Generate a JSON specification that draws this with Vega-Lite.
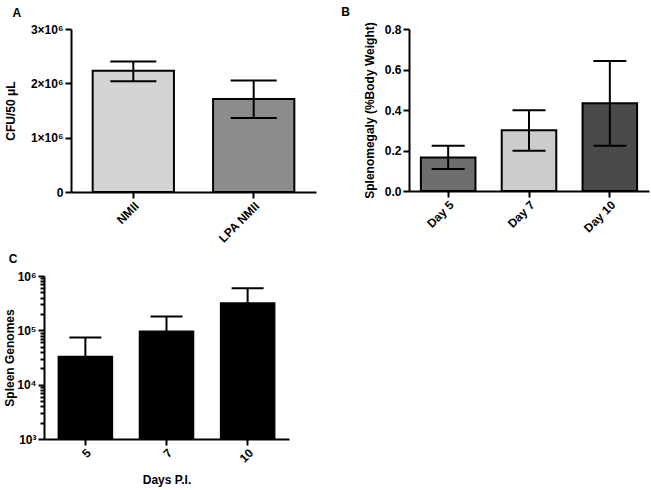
{
  "$schema": "https://vega.github.io/schema/vega-lite/v6.json",
  "padding": {"left": 3, "top": 5, "right": 3, "bottom": 3},
  "background": "white",
  "columns": 2,
  "align": "none",
  "spacing": {"row": 8, "column": 25},
  "resolve": {"scale": {"color": "independent"}},
  "datasets": {
    "a": [
      {"group": "NMII", "mean": 2230000, "lo": 2040000, "hi": 2400000},
      {"group": "LPA NMII", "mean": 1710000, "lo": 1360000, "hi": 2050000}
    ],
    "b": [
      {"group": "Day 5", "mean": 0.166, "lo": 0.109, "hi": 0.224},
      {"group": "Day 7", "mean": 0.300, "lo": 0.199, "hi": 0.399},
      {"group": "Day 10", "mean": 0.433, "lo": 0.224, "hi": 0.642}
    ],
    "c": [
      {"day": "5", "mean": 32600, "hi": 73800},
      {"day": "7", "mean": 95000, "hi": 179000},
      {"day": "10", "mean": 316000, "hi": 597000}
    ]
  },
  "concat": [
    {
      "title": {"text": "A", "dx": 8, "offset": 3},
      "width": 245,
      "height": 163,
      "data": {"name": "a"},
      "encoding": {
        "x": {"field": "group", "type": "nominal", "sort": null,
          "scale": {"paddingInner": 0.325, "paddingOuter": 0.18},
          "axis": {"title": null, "labelAngle": -45}}
      },
      "layer": [
        {"mark": {"type": "bar", "stroke": "black", "strokeWidth": 2},
          "encoding": {
            "y": {"field": "mean", "type": "quantitative", "title": "CFU/50 μL",
              "scale": {"domain": [0, 3000000]},
              "axis": {"values": [0, 1000000, 2000000, 3000000], "titlePadding": 13,
                "labelExpr": "datum.value==0 ? '0' : format(datum.value/1000000,'d') + '×10⁶'"}},
            "color": {"field": "group", "type": "nominal", "legend": null,
              "scale": {"domain": ["NMII", "LPA NMII"], "range": ["#d4d4d4", "#8c8c8e"]}}
          }},
        {"mark": {"type": "rule", "strokeWidth": 2, "color": "black"},
          "encoding": {"y": {"field": "lo", "type": "quantitative", "title": "CFU/50 μL"}, "y2": {"field": "hi"}}},
        {"mark": {"type": "tick", "thickness": 2, "size": 46, "color": "black", "opacity": 1},
          "encoding": {"y": {"field": "lo", "type": "quantitative", "title": "CFU/50 μL"}}},
        {"mark": {"type": "tick", "thickness": 2, "size": 46, "color": "black", "opacity": 1},
          "encoding": {"y": {"field": "hi", "type": "quantitative", "title": "CFU/50 μL"}}}
      ]
    },
    {
      "title": {"text": "B", "dx": -22, "offset": 3},
      "width": 240,
      "height": 162,
      "data": {"name": "b"},
      "encoding": {
        "x": {"field": "group", "type": "nominal", "sort": null,
          "scale": {"paddingInner": 0.325, "paddingOuter": 0.147},
          "axis": {"title": null, "labelAngle": -45}}
      },
      "layer": [
        {"mark": {"type": "bar", "stroke": "black", "strokeWidth": 2},
          "encoding": {
            "y": {"field": "mean", "type": "quantitative", "title": "Splenomegaly (%Body Weight)",
              "scale": {"domain": [0, 0.8]},
              "axis": {"values": [0, 0.2, 0.4, 0.6, 0.8], "format": ".1f", "titlePadding": 8}},
            "color": {"field": "group", "type": "nominal", "legend": null,
              "scale": {"domain": ["Day 5", "Day 7", "Day 10"], "range": ["#6e6e6e", "#cccccc", "#4a4a4a"]}}
          }},
        {"mark": {"type": "rule", "strokeWidth": 2, "color": "black"},
          "encoding": {"y": {"field": "lo", "type": "quantitative", "title": "Splenomegaly (%Body Weight)"}, "y2": {"field": "hi"}}},
        {"mark": {"type": "tick", "thickness": 2, "size": 33, "color": "black", "opacity": 1},
          "encoding": {"y": {"field": "lo", "type": "quantitative", "title": "Splenomegaly (%Body Weight)"}}},
        {"mark": {"type": "tick", "thickness": 2, "size": 33, "color": "black", "opacity": 1},
          "encoding": {"y": {"field": "hi", "type": "quantitative", "title": "Splenomegaly (%Body Weight)"}}}
      ]
    },
    {
      "title": {"text": "C", "dx": 5, "offset": 4},
      "width": 245,
      "height": 163,
      "data": {"name": "c"},
      "encoding": {
        "x": {"field": "day", "type": "nominal", "sort": null,
          "scale": {"paddingInner": 0.34, "paddingOuter": 0.18, "range": [-27, 218]},
          "axis": {"title": "Days P.I.", "labelAngle": -45, "titlePadding": 10}}
      },
      "layer": [
        {"mark": {"type": "bar", "stroke": "black", "strokeWidth": 2, "color": "black"},
          "encoding": {
            "y": {"field": "mean", "type": "quantitative", "title": "Spleen Genomes",
              "scale": {"type": "log", "domain": [1000, 1000000]},
              "axis": {
                "offset": 27,
                "values": [1000, 2000, 3000, 4000, 5000, 6000, 7000, 8000, 9000,
                  10000, 20000, 30000, 40000, 50000, 60000, 70000, 80000, 90000,
                  100000, 200000, 300000, 400000, 500000, 600000, 700000, 800000, 900000, 1000000],
                "titlePadding": 0,
                "tickSize": {"condition": {"test": "abs(log(datum.value)/LN10 - round(log(datum.value)/LN10)) < 0.001", "value": 6}, "value": 4},
                "labelExpr": "datum.value==1000 ? '10³' : datum.value==10000 ? '10⁴' : datum.value==100000 ? '10⁵' : datum.value==1000000 ? '10⁶' : ''"}},
            "y2": {"datum": 1000}
          }},
        {"mark": {"type": "rule", "strokeWidth": 2, "color": "black"},
          "encoding": {"y": {"field": "mean", "type": "quantitative", "title": "Spleen Genomes"}, "y2": {"field": "hi"}}},
        {"mark": {"type": "tick", "thickness": 2, "size": 32, "color": "black", "opacity": 1},
          "encoding": {"y": {"field": "hi", "type": "quantitative", "title": "Spleen Genomes"}}}
      ]
    }
  ],
  "config": {
    "view": {"stroke": null},
    "font": "Liberation Sans",
    "axis": {
      "domainColor": "black", "domainWidth": 2, "tickColor": "black", "tickWidth": 2, "tickSize": 6,
      "labelFont": "Liberation Sans", "labelFontWeight": "bold", "labelFontSize": 12, "labelColor": "black", "labelPadding": 2,
      "titleFont": "Liberation Sans", "titleFontWeight": "bold", "titleFontSize": 12, "titleColor": "black",
      "grid": false
    },
    "title": {"font": "Liberation Sans", "fontWeight": "bold", "fontSize": 12, "color": "black", "anchor": "start"}
  }
}
